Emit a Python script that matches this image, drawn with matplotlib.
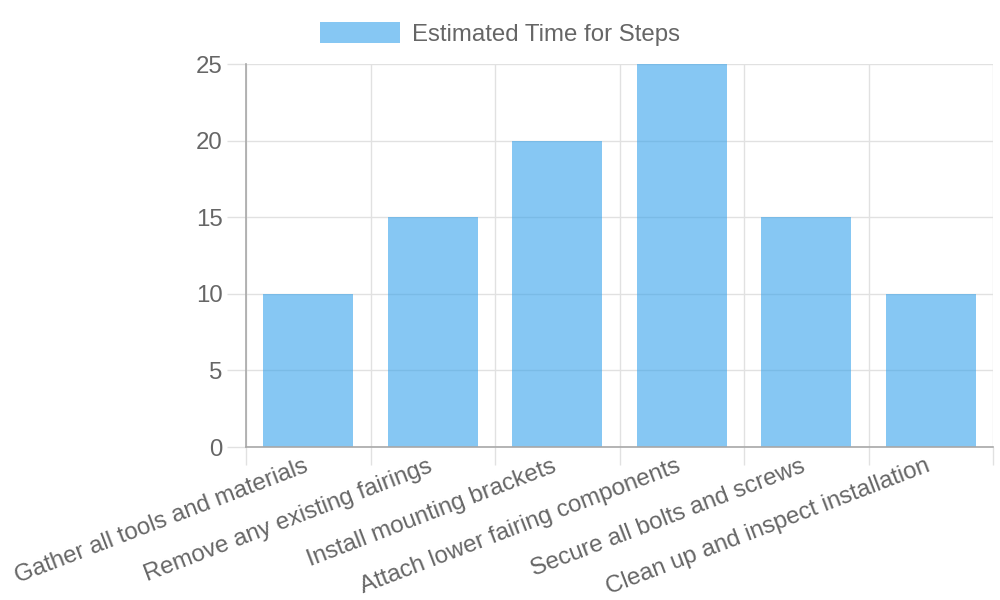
import numpy as np
import matplotlib
matplotlib.use("Agg")
import matplotlib.pyplot as plt
from matplotlib.ticker import FixedLocator
from matplotlib.transforms import ScaledTranslation

steps = ["Gather all tools and materials", "Remove any existing fairings",
         "Install mounting brackets", "Attach lower fairing components",
         "Secure all bolts and screws", "Clean up and inspect installation"]
minutes = [10, 15, 20, 25, 15, 10]
y_ticks = [0, 5, 10, 15, 20, 25]
series_name = "Estimated Time for Steps"

plt.rcParams['font.family'] = ['Liberation Sans', 'DejaVu Sans']
txt = '#666666'
grid = '#e1e1e1'
axis_c = '#a8a8a8'
fs = 17.3

fig = plt.figure(figsize=(10, 6), dpi=100)
ax = fig.add_axes([0.246, 0.255, 0.747, 0.638])

x = np.arange(len(steps))
ax.bar(x, minutes, width=0.72, color=(54/255, 162/255, 235/255, 0.6),
       edgecolor='none', zorder=2, label=series_name)

ax.set_xlim(-0.5, len(steps) - 0.5)
ax.set_ylim(0, 25)

# category boundaries carry ticks and grid, centres carry labels
ax.xaxis.set_major_locator(FixedLocator(x))
ax.xaxis.set_minor_locator(FixedLocator(np.arange(len(steps) + 1) - 0.5))
ax.set_xticklabels(steps, rotation=21, ha='right', rotation_mode='anchor',
                   fontsize=fs, color=txt)
ax.tick_params(axis='x', which='major', length=0, pad=6)
ax.tick_params(axis='x', which='minor', length=13, width=1, color=grid)
ax.grid(True, axis='x', which='minor', color=grid, linewidth=1, zorder=0)
shift = ScaledTranslation(-4 / 72, 0, fig.dpi_scale_trans)
for lab in ax.get_xticklabels():
    lab.set_transform(lab.get_transform() + shift)

ax.set_yticks(y_ticks)
ax.tick_params(axis='y', length=14, width=1, color=grid, pad=3,
               labelsize=fs, labelcolor=txt)
ax.grid(True, axis='y', which='major', color=grid, linewidth=1, zorder=0)
ax.set_axisbelow(True)

for side in ['top', 'right']:
    ax.spines[side].set_visible(False)
for side in ['left', 'bottom']:
    ax.spines[side].set_color(axis_c)
    ax.spines[side].set_linewidth(1.2)

fig.legend(loc='upper center', bbox_to_anchor=(0.5, 1.0), frameon=False,
           fontsize=fs, labelcolor=txt, handlelength=3.3, handleheight=1.0,
           handletextpad=0.5)

fig.savefig('out.png', dpi=100)
